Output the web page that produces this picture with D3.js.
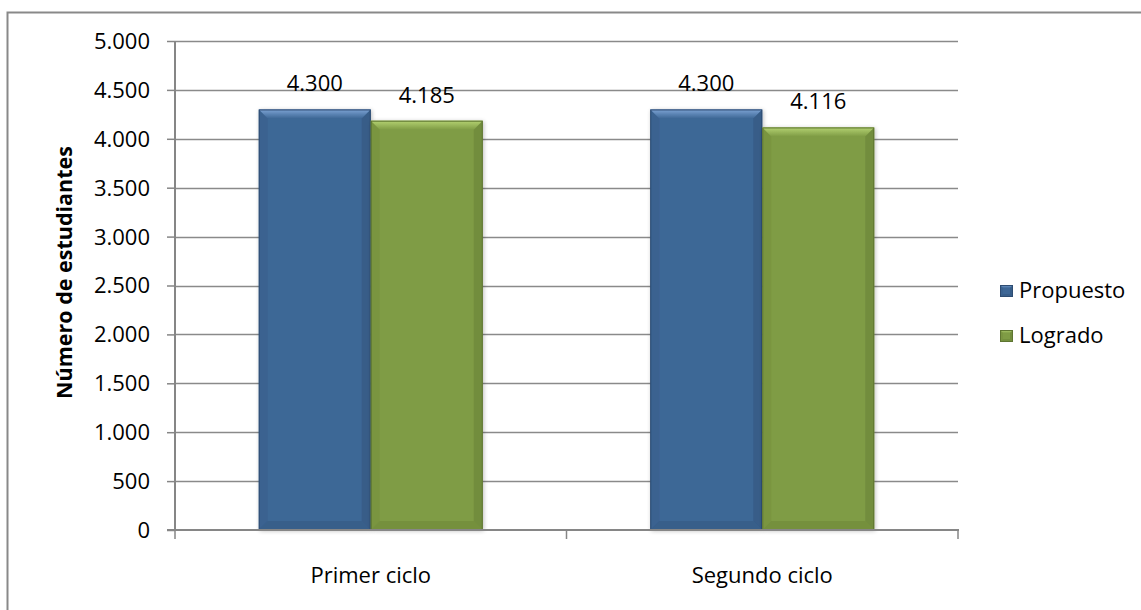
<!DOCTYPE html>
<html><head><meta charset="utf-8">
<script src="https://cdn.jsdelivr.net/npm/d3@7"></script>
<style>body{margin:0;background:#fff}svg{display:block}text{font-family:"Open Sans",sans-serif;fill:#000}</style>
</head><body><svg id="c" width="1141" height="610"></svg>
<script>
const categories = ["Primer ciclo", "Segundo ciclo"];
const seriesNames = ["Propuesto", "Logrado"];
const propuesto = [4300, 4300];
const logrado = [4185, 4116];
const yTicks = [0, 500, 1000, 1500, 2000, 2500, 3000, 3500, 4000, 4500, 5000];
const yTitle = "Número de estudiantes";

const colors = {Propuesto: {base:"#3E6796", light:"#7CA3D4", dark:"#2B4A70", edge:"#2E4C72"},
                Logrado:   {base:"#7F9C45", light:"#B4D272", dark:"#5C7330", edge:"#5E7531"}};
const fmt = v => d3.format(",")(v).replace(/,/g, ".");
const svg = d3.select("#c");
const L = 175, R = 958, T = 41, B = 530;

// outer border
svg.append("rect").attr("x", 7.5).attr("y", 12.5).attr("width", 1140).attr("height", 610)
  .attr("fill", "none").attr("stroke", "#898989").attr("stroke-width", 2);

const x0 = d3.scaleBand().domain(categories).range([L, R]).paddingInner(0).paddingOuter(0);
const x1 = d3.scaleBand().domain(seriesNames).range([0, x0.bandwidth()]).paddingInner(0).paddingOuter(0.748);
const y = d3.scaleLinear().domain([0, 5000]).range([B, T]);

// gridlines
svg.append("g").selectAll("line").data(yTicks.filter(t => t > 0)).join("line")
  .attr("x1", L).attr("x2", R).attr("y1", d => Math.round(y(d)) + 0.5).attr("y2", d => Math.round(y(d)) + 0.5)
  .attr("stroke", "#8a8a8a").attr("stroke-width", 1.4);

// y axis
const yAxis = d3.axisLeft(y).tickValues(yTicks).tickFormat(fmt).tickSize(8).tickPadding(17);
const gy = svg.append("g").attr("transform", `translate(${L},0)`).call(yAxis);
gy.select(".domain").attr("stroke", "#868686").attr("stroke-width", 2).attr("d", `M0,${T}V${B+1}`);
gy.selectAll(".tick line").attr("stroke", "#868686").attr("stroke-width", 1.5);
gy.selectAll(".tick text").attr("font-size", 22).attr("font-family", '"Open Sans",sans-serif').attr("fill", "#000").attr("dy", "0.34em");

// x axis
const gx = svg.append("g").attr("transform", `translate(0,${B})`);
gx.append("line").attr("x1", L - 8).attr("x2", R + 1).attr("y1", 0).attr("y2", 0).attr("stroke", "#868686").attr("stroke-width", 2);
const bounds = [L, ...categories.map(c => x0(c) + x0.bandwidth())];
gx.selectAll("line.tk").data(bounds).join("line").attr("class", "tk")
  .attr("x1", d => d).attr("x2", d => d).attr("y1", 0).attr("y2", 9).attr("stroke", "#868686").attr("stroke-width", 1.5);
gx.selectAll("text").data(categories).join("text")
  .attr("x", d => x0(d) + x0.bandwidth() / 2).attr("y", 53).attr("text-anchor", "middle")
  .attr("font-size", 22).text(d => d);

// y title
svg.append("text").attr("transform", `translate(72,${(T + B) / 2 - 13}) rotate(-90)`)
  .attr("text-anchor", "middle").attr("font-weight", "bold").attr("font-size", 21.5).text(yTitle);

// gradients
const defs = svg.append("defs");
seriesNames.forEach(s => {
  const c = colors[s];
  const g = defs.append("linearGradient").attr("id", "top-" + s).attr("x1", 0).attr("y1", 0).attr("x2", 0).attr("y2", 1);
  g.append("stop").attr("offset", 0).attr("stop-color", c.light);
  g.append("stop").attr("offset", 1).attr("stop-color", c.base);
});
const sh = defs.append("filter").attr("id", "sh").attr("x", -0.1).attr("y", -0.1).attr("width", 1.2).attr("height", 1.2);
sh.append("feGaussianBlur").attr("in", "SourceAlpha").attr("stdDeviation", 2);
sh.append("feOffset").attr("dx", 1).attr("dy", 1).attr("result", "b");
sh.append("feComponentTransfer").append("feFuncA").attr("type", "linear").attr("slope", 0.25);
const m = sh.append("feMerge"); m.append("feMergeNode"); m.append("feMergeNode").attr("in", "SourceGraphic");

function bevelBar(g, x, yTop, w, h, s, bv) {
  const c = colors[s];
  const yb = yTop + h;
  g.append("rect").attr("x", x).attr("y", yTop).attr("width", w).attr("height", h).attr("fill", c.base);
  g.append("path").attr("d", `M${x},${yTop}H${x+w}L${x+w-bv},${yTop+bv}H${x+bv}Z`).attr("fill", `url(#top-${s})`);
  g.append("path").attr("d", `M${x+w},${yTop}L${x+w-bv},${yTop+bv}V${yb-bv}L${x+w},${yb}Z`).attr("fill", c.dark).attr("opacity", 0.35);
  g.append("path").attr("d", `M${x},${yTop}L${x+bv},${yTop+bv}V${yb-bv}L${x},${yb}Z`).attr("fill", c.dark).attr("opacity", 0.15);
  g.append("path").attr("d", `M${x},${yb}L${x+bv},${yb-bv}H${x+w-bv}L${x+w},${yb}Z`).attr("fill", c.dark).attr("opacity", 0.3);
  g.append("rect").attr("x", x + 0.5).attr("y", yTop + 0.5).attr("width", w - 1).attr("height", h - 1)
    .attr("fill", "none").attr("stroke", c.edge).attr("stroke-width", 1);
}

const data = categories.map((c, i) => ({cat: c, vals: [{s: "Propuesto", v: propuesto[i]}, {s: "Logrado", v: logrado[i]}]}));
const bars = svg.append("g");
data.forEach(d => {
  d.vals.forEach(e => {
    const bx = x0(d.cat) + x1(e.s);
    const g = bars.append("g").attr("filter", "url(#sh)");
    bevelBar(g, bx, y(e.v), x1.bandwidth(), B - y(e.v), e.s, 9);
    svg.append("text").attr("x", bx + x1.bandwidth() / 2).attr("y", y(e.v) - 18)
      .attr("text-anchor", "middle").attr("font-size", 22).text(fmt(e.v));
  });
});
svg.append("line").attr("x1", L).attr("x2", R + 1).attr("y1", B).attr("y2", B).attr("stroke", "#868686").attr("stroke-width", 2);

// legend
const lg = svg.append("g");
seriesNames.forEach((s, i) => {
  const ly = 285 + i * 45;
  bevelBar(lg, 1000, ly, 13, 12, s, 3);
  lg.append("text").attr("x", 1019).attr("y", ly + 13).attr("font-size", 22).text(s);
});
</script></body></html>
